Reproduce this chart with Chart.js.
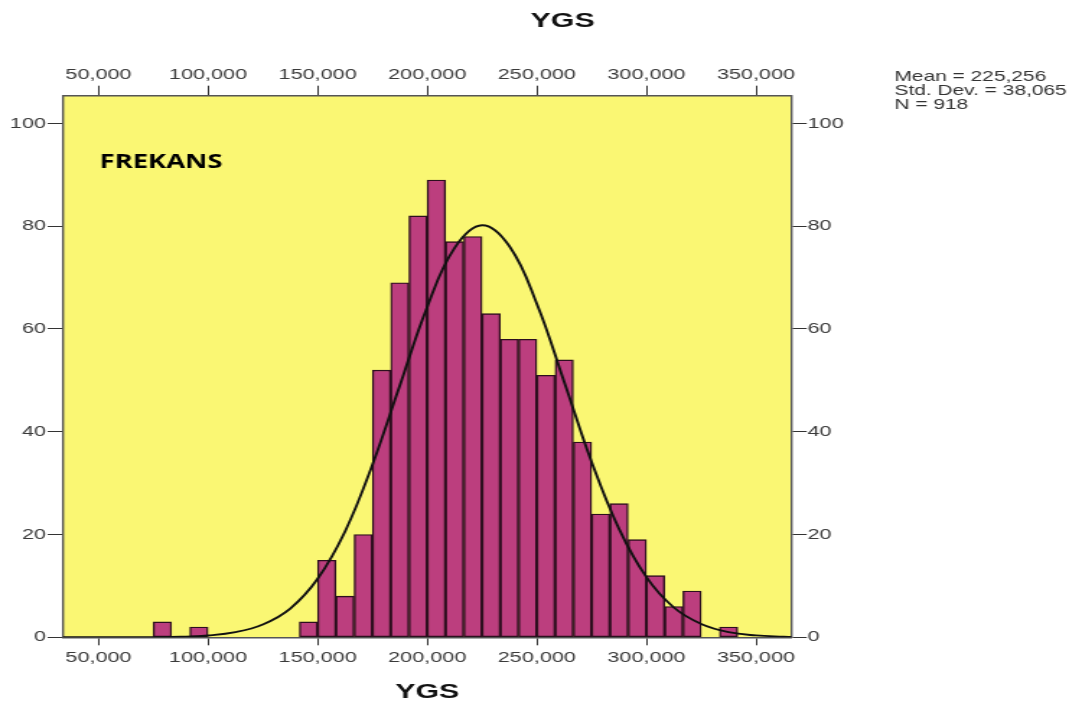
<!DOCTYPE html>
<html>
<head>
<meta charset="utf-8">
<script src="https://cdn.jsdelivr.net/npm/chart.js@4.4.0/dist/chart.umd.min.js"></script>
<style>
  html, body { margin: 0; padding: 0; background: #fff; }
</style>
</head>
<body>
<!-- the original picture is stretched sideways, so the canvas is drawn narrow and widened by css -->
<canvas id="c" width="750" height="709" style="width:1082px;height:709px;display:block"></canvas>
<script>
// histogram bins (lower edge of each bin, width 8,333)
var binWidth = 25000 / 3;
var binStarts = [75000, 83333, 91667, 100000, 108333, 116667, 125000, 133333,
                 141667, 150000, 158333, 166667, 175000, 183333, 191667, 200000,
                 208333, 216667, 225000, 233333, 241667, 250000, 258333, 266667,
                 275000, 283333, 291667, 300000, 308333, 316667, 325000, 333333];
var counts = [3, 0, 2, 0, 0, 0, 0, 0,
              3, 15, 8, 20, 52, 69, 82, 89,
              77, 78, 63, 58, 58, 51, 54, 38,
              24, 26, 19, 12, 6, 9, 0, 2];

// normal curve
var curveX = [33700, 37500, 50000, 62500, 75000, 87500, 100000, 112500, 125000, 137500,
              150000, 162500, 175000, 187500, 200000, 212500, 225000, 237500, 250000,
              262500, 275000, 287500, 300000, 312500, 325000, 337500, 350000, 362500, 366300];
var curveY = [0, 0, 0, 0.01, 0.03, 0.11, 0.36, 1.0, 2.5, 5.6,
              11.4, 20.6, 33.6, 49.0, 64.3, 75.8, 80.2, 76.1, 64.9,
              49.7, 34.1, 21.1, 11.7, 5.8, 2.6, 1.0, 0.37, 0.12, 0.08];

var xTickValues = [50000, 100000, 150000, 200000, 250000, 300000, 350000];
var yTickValues = [0, 20, 40, 60, 80, 100];

var statLines = ['Mean = 225,256', 'Std. Dev. = 38,065', 'N = 918'];

var xMin = 33700, xMax = 366300;
var yMin = 0, yMax = 105.4;

document.addEventListener('DOMContentLoaded', function () {
    var tickFont = { family: "'Liberation Sans', Arial, sans-serif", size: 15 };
    var tickColor = '#3a3a3a';
    var frame = { display: true, color: '#555', width: 1.4 };

    function fmt(v) { return v.toLocaleString('en-US'); }
    function setTicks(list) {
        return function (scale) {
            scale.ticks = list.map(function (v) { return { value: v }; });
        };
    }

    var plotBg = {
        id: 'plotBg',
        beforeDraw: function (chart) {
            var a = chart.chartArea, ctx = chart.ctx;
            ctx.save();
            ctx.fillStyle = '#FAF773';
            ctx.fillRect(a.left, a.top, a.right - a.left, a.bottom - a.top);
            ctx.restore();
        }
    };

    var notes = {
        id: 'notes',
        afterDraw: function (chart) {
            var ctx = chart.ctx;
            ctx.save();
            ctx.fillStyle = '#111';
            ctx.textAlign = 'center';
            ctx.textBaseline = 'alphabetic';
            ctx.font = "bold 21px 'Liberation Sans', Arial, sans-serif";
            ctx.fillText('YGS', 390, 26.5);

            ctx.fillStyle = '#333';
            ctx.textAlign = 'left';
            ctx.font = "14.5px 'Liberation Sans', Arial, sans-serif";
            statLines.forEach(function (t, i) {
                ctx.fillText(t, 620, 80.5 + i * 14);
            });

            ctx.fillStyle = '#000';
            ctx.font = "bold 19px 'Open Sans', sans-serif";
            ctx.fillText('FREKANS', 69, 167.5);
            ctx.restore();
        }
    };

    var ctx = document.getElementById('c').getContext('2d');
    var histChart = new Chart(ctx, {
        type: 'bar',
        data: {
            datasets: [{
                type: 'line',
                data: curveX.map(function (x, i) { return { x: x, y: curveY[i] }; }),
                borderColor: '#111',
                borderWidth: 1.9,
                pointRadius: 0,
                tension: 0.4,
                fill: false,
                order: 0
            }, {
                data: binStarts.map(function (s, i) { return { x: s + binWidth / 2, y: counts[i] }; }),
                backgroundColor: '#BC3E7E',
                borderColor: '#2c0f1e',
                borderWidth: 1.4,
                borderSkipped: false,
                barPercentage: 1,
                categoryPercentage: 1,
                order: 1
            }]
        },
        options: {
            responsive: false,
            devicePixelRatio: 1,
            animation: false,
            layout: { padding: { left: 0, top: 40, right: 161.2, bottom: 0 } },
            plugins: { legend: { display: false }, tooltip: { enabled: false } },
            scales: {
                x: {
                    type: 'linear', position: 'bottom', min: xMin, max: xMax, offset: false,
                    afterBuildTicks: setTicks(xTickValues),
                    afterFit: function (s) { s.height = 71.7; },
                    border: frame,
                    grid: { drawOnChartArea: false, offset: false, tickLength: 8, color: '#333' },
                    ticks: { font: tickFont, color: tickColor, padding: 4, maxRotation: 0,
                             autoSkip: false, callback: fmt },
                    title: { display: true, text: 'YGS', color: '#111',
                             font: { family: "'Liberation Sans', Arial, sans-serif", size: 21, weight: 'bold' },
                             padding: { top: 0, bottom: 4.4 } }
                },
                x2: {
                    type: 'linear', axis: 'x', position: 'top', min: xMin, max: xMax, offset: false,
                    afterBuildTicks: setTicks(xTickValues),
                    afterFit: function (s) { s.height = 55.7; },
                    border: frame,
                    grid: { drawOnChartArea: false, offset: false, tickLength: 10, color: '#333' },
                    ticks: { font: tickFont, color: tickColor, padding: 2, maxRotation: 0,
                             autoSkip: false, callback: fmt }
                },
                y: {
                    position: 'left', min: yMin, max: yMax,
                    afterBuildTicks: setTicks(yTickValues),
                    afterFit: function (s) { s.width = 43.46; },
                    border: frame,
                    grid: { drawOnChartArea: false, tickLength: 10.4, color: '#333' },
                    ticks: { font: tickFont, color: tickColor, padding: 1.2 }
                },
                y2: {
                    type: 'linear', axis: 'y', position: 'right', min: yMin, max: yMax,
                    afterBuildTicks: setTicks(yTickValues),
                    afterFit: function (s) { s.width = 40; },
                    border: frame,
                    grid: { drawOnChartArea: false, tickLength: 10.4, color: '#333' },
                    ticks: { font: tickFont, color: tickColor, padding: 0.5 }
                }
            }
        },
        plugins: [plotBg, notes]
    });
});
</script>
</body>
</html>
